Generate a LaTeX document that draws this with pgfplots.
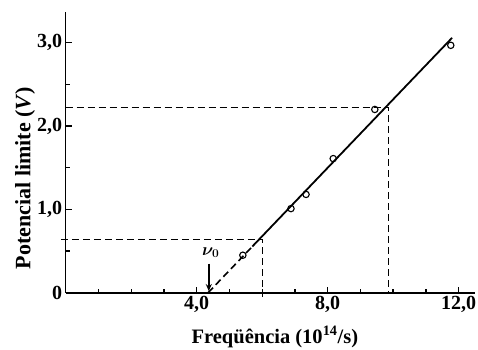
\documentclass[border=0pt]{standalone}
\usepackage{amsmath}
\usepackage{fontspec}
\setmainfont{Liberation Serif}
\usepackage{pgfplots}
\pgfplotsset{compat=1.18}
\usetikzlibrary{arrows.meta}
\begin{document}
\begin{tikzpicture}
\begin{axis}[
  scale only axis, width=409.3pt, height=280.7pt,
  xmin=0, xmax=12.5, ymin=0, ymax=3.37,
  axis x line*=bottom, axis y line*=left,
  axis line style={line width=1.6pt,-},
  tick align=inside,
  xtick={4,8,12}, xticklabels={{4,0},{8,0},{12,0}},
  minor xtick={1,2,3,5,6,7,9,10,11},
  ytick={0,1,2,3}, yticklabels={0,{1,0},{2,0},{3,0}},
  minor ytick={0.5,1.5,2.5},
  major tick length=6pt, minor tick length=4pt,
  tick style={line width=1.3pt, black},
  ticklabel style={font=\fontsize{20}{22}\selectfont\bfseries},
  xlabel={Freqüência (10\textsuperscript{14}/s)},
  ylabel={Potencial limite (\textit{V})},
  every axis x label/.style={at={(axis description cs:0.511,-0.158)}, anchor=center, font=\fontsize{20.5}{22}\selectfont\bfseries},
  every axis y label/.style={at={(axis description cs:-0.0994,0.409)}, anchor=center, rotate=90, font=\fontsize{22}{24}\selectfont\bfseries},
  clip=false,
]
\coordinate (bl) at (rel axis cs:0,0);
% guide lines
\addplot[dashed, dash pattern=on 7pt off 4pt, line width=1.3pt] coordinates {(0,2.22) (9.85,2.22) (9.85,0)};
\addplot[dashed, dash pattern=on 7pt off 4pt, line width=1.3pt] coordinates {(-0.15,0.64) (6.0,0.64) (6.0,-0.05)};
% fitted line
\addplot[dashed, dash pattern=on 7pt off 4pt, line width=1.6pt] coordinates {(4.35,0) (5.7,0.555)};
\addplot[line width=1.8pt] coordinates {(5.7,0.555) (11.8,3.06)};
% data
\addplot[only marks, mark=o, mark size=3.2pt, mark options={fill=white, line width=1.1pt}] coordinates {(5.41,0.45) (6.88,1.01) (7.34,1.18) (8.17,1.61) (9.44,2.20) (11.76,2.97)};
% nu0 arrow
\addplot[line width=1.5pt, -{Stealth[length=7pt,width=6pt]}] coordinates {(4.37,0.35) (4.37,0.02)};
\node[font=\fontsize{17}{19}\selectfont] at (axis cs:4.43,0.48) {$\boldsymbol{\nu_0}$};
\end{axis}
\pgfresetboundingbox
\path (bl) ++(-65.7pt,-56.3pt) rectangle ++(478pt,349pt);
\end{tikzpicture}
\end{document}
